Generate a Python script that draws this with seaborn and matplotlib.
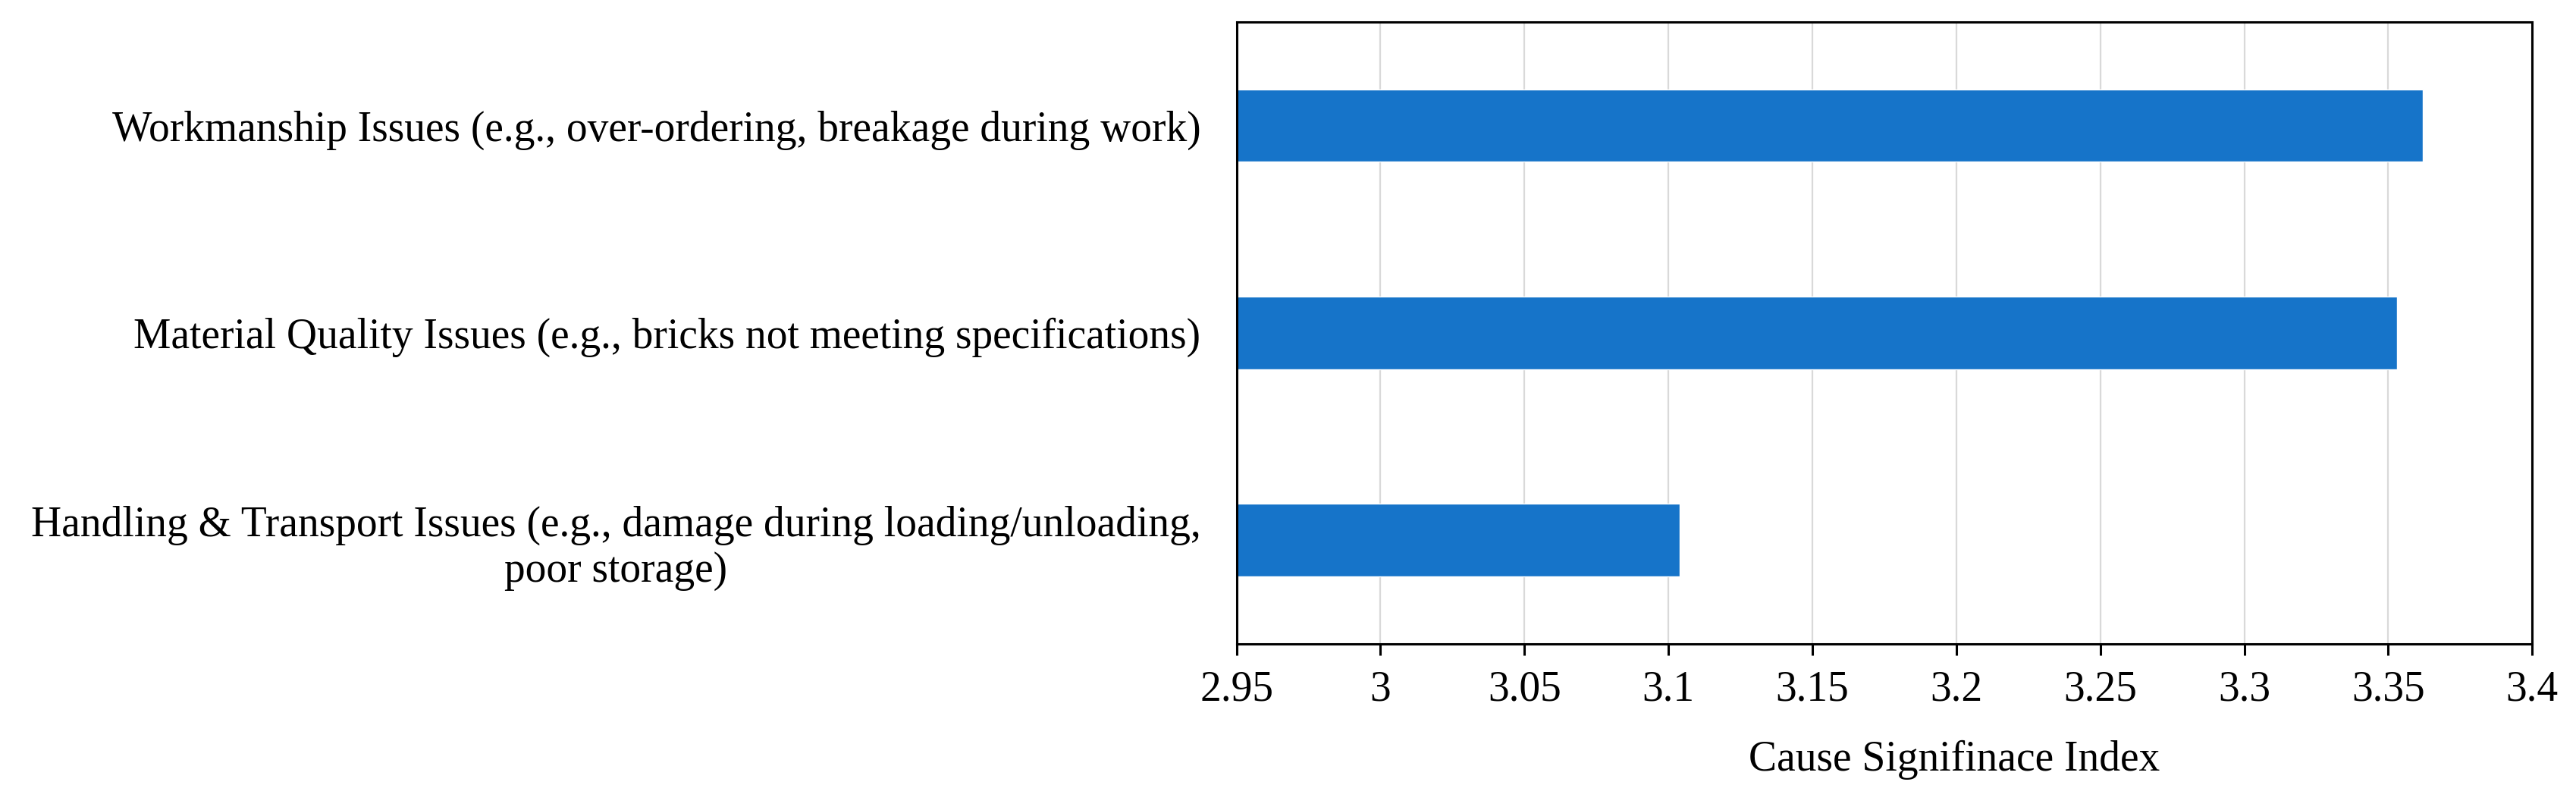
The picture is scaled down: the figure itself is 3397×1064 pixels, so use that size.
import matplotlib
matplotlib.use('Agg')
import matplotlib.pyplot as plt
from matplotlib.ticker import FuncFormatter, MultipleLocator
import seaborn as sns
import pandas as pd

# values
causes = [
    'Workmanship Issues (e.g., over-ordering, breakage during work)',
    'Material Quality Issues (e.g., bricks not meeting specifications)',
    'Handling & Transport Issues (e.g., damage during loading/unloading,\npoor storage)',
]
csi_values = [3.362, 3.353, 3.104]

BAR_COLOR = '#1674C9'

sns.set_style('white')
plt.rcParams['font.family'] = ['Liberation Serif', 'DejaVu Serif']

df = pd.DataFrame({'cause': causes, 'csi': csi_values})

fig = plt.figure(figsize=(33.97, 10.64), dpi=100)
ax = fig.add_axes([0.480, 0.202, 0.503, 0.771])

sns.barplot(data=df, y='cause', x='csi', orient='h', color=BAR_COLOR,
            width=0.35, saturation=1, ax=ax, zorder=2)

ax.set_xlim(2.95, 3.4)
ax.xaxis.set_major_locator(MultipleLocator(0.05))
ax.xaxis.set_major_formatter(FuncFormatter(lambda v, p: f'{round(v, 2):g}'))

ax.grid(axis='x', color='#D9D9D9', linewidth=1.6, zorder=0)
ax.grid(axis='y', visible=False)
ax.set_axisbelow(True)

for side in ['top', 'bottom', 'left', 'right']:
    ax.spines[side].set_visible(True)
    ax.spines[side].set_color('black')
    ax.spines[side].set_linewidth(2.2)

ax.tick_params(axis='x', which='major', direction='out', length=11, width=2.2,
               bottom=True, labelsize=40, pad=14, colors='black')
ax.tick_params(axis='y', length=0, labelsize=40, pad=34, colors='black')
for lbl in ax.get_yticklabels():
    lbl.set_multialignment('center')

ax.set_ylabel('')
ax.set_xlabel('Cause Signifinace Index', fontsize=40, color='black')
ax.xaxis.set_label_coords(0.554, -0.155)

fig.savefig('out.png', dpi=100, facecolor='white')
